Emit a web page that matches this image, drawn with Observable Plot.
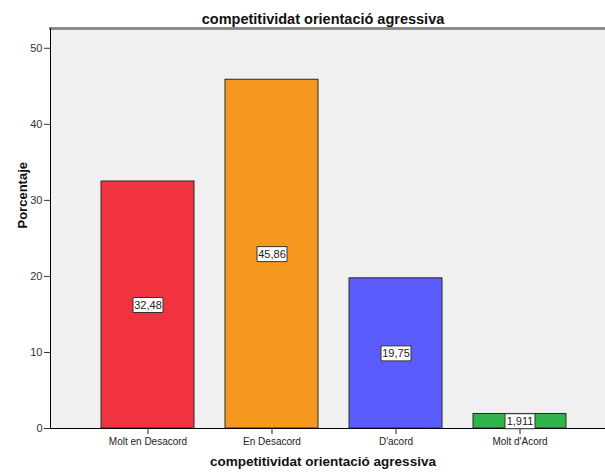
<!DOCTYPE html>
<html>
<head>
<meta charset="utf-8">
<script src="https://cdn.jsdelivr.net/npm/d3@7"></script>
<script src="https://cdn.jsdelivr.net/npm/@observablehq/plot@0.6"></script>
<style>
  html, body { margin: 0; padding: 0; background: #fff; }
  svg { font-family: "Liberation Sans", Arial, sans-serif; }
</style>
</head>
<body>
<div id="chart"></div>
<script>
const categories = ["Molt en Desacord", "En Desacord", "D'acord", "Molt d'Acord"];
const values = [32.48, 45.86, 19.75, 1.911];
const labels = ["32,48", "45,86", "19,75", "1,911"];
const colors = ["#f0333e", "#f7981f", "#5b5cfd", "#2fb34a"];
const yTicks = [0, 10, 20, 30, 40, 50];
const title = "competitividat orientació agressiva";
const yLabel = "Porcentaje";

const data = categories.map((c, i) => ({cat: c, value: values[i], label: labels[i], color: colors[i]}));

const boxSymbol = {
  draw(ctx, size) { ctx.rect(-15, -7.5, 30, 15); }
};

const chart = Plot.plot({
  width: 605,
  height: 473,
  marginLeft: 50,
  marginRight: 0,
  marginTop: 28,
  marginBottom: 45,
  style: {fontFamily: "Liberation Sans, Arial, sans-serif", background: "#fff"},
  x: {domain: categories, range: [50, 617], paddingInner: 0.25, paddingOuter: 0.4, label: null},
  y: {domain: [0, 52.6], label: null},
  marks: [
    Plot.frame({fill: "#f0f0f0", stroke: null}),
    Plot.barY(data, {x: "cat", y: "value", fill: "color", stroke: "#2a2a2a", strokeWidth: 1}),
    Plot.frame({anchor: "top", stroke: "#8c8c8c", strokeWidth: 3}),
    Plot.frame({anchor: "left", stroke: "#000", strokeWidth: 1}),
    Plot.ruleY([0], {stroke: "#000", strokeWidth: 1.2}),
    Plot.axisY({ticks: yTicks, tickSize: 6, tickPadding: 2, fontSize: 11, color: "#333", label: null, tickFormat: d => String(d)}),
    Plot.axisX({tickSize: 6, tickPadding: 3, fontSize: 10, color: "#222", label: null}),
    Plot.dot(data, {x: "cat", y: d => d.value / 2, symbol: boxSymbol, fill: "#fff", stroke: "#333", strokeWidth: 1}),
    Plot.text(data, {x: "cat", y: d => d.value / 2, text: "label", fontSize: 11, fill: "#222"}),
    Plot.text([title], {frameAnchor: "top", dx: -5, dy: -15, fontSize: 14.5, fontWeight: "bold", fill: "#111"}),
    Plot.text([title], {frameAnchor: "bottom", dx: -5, dy: 37, fontSize: 13.5, fontWeight: "bold", fill: "#111"}),
    Plot.text([yLabel], {frameAnchor: "left", dx: -28, rotate: -90, fontSize: 13, fontWeight: "bold", fill: "#111"})
  ]
});
document.getElementById("chart").appendChild(chart);
</script>
</body>
</html>
